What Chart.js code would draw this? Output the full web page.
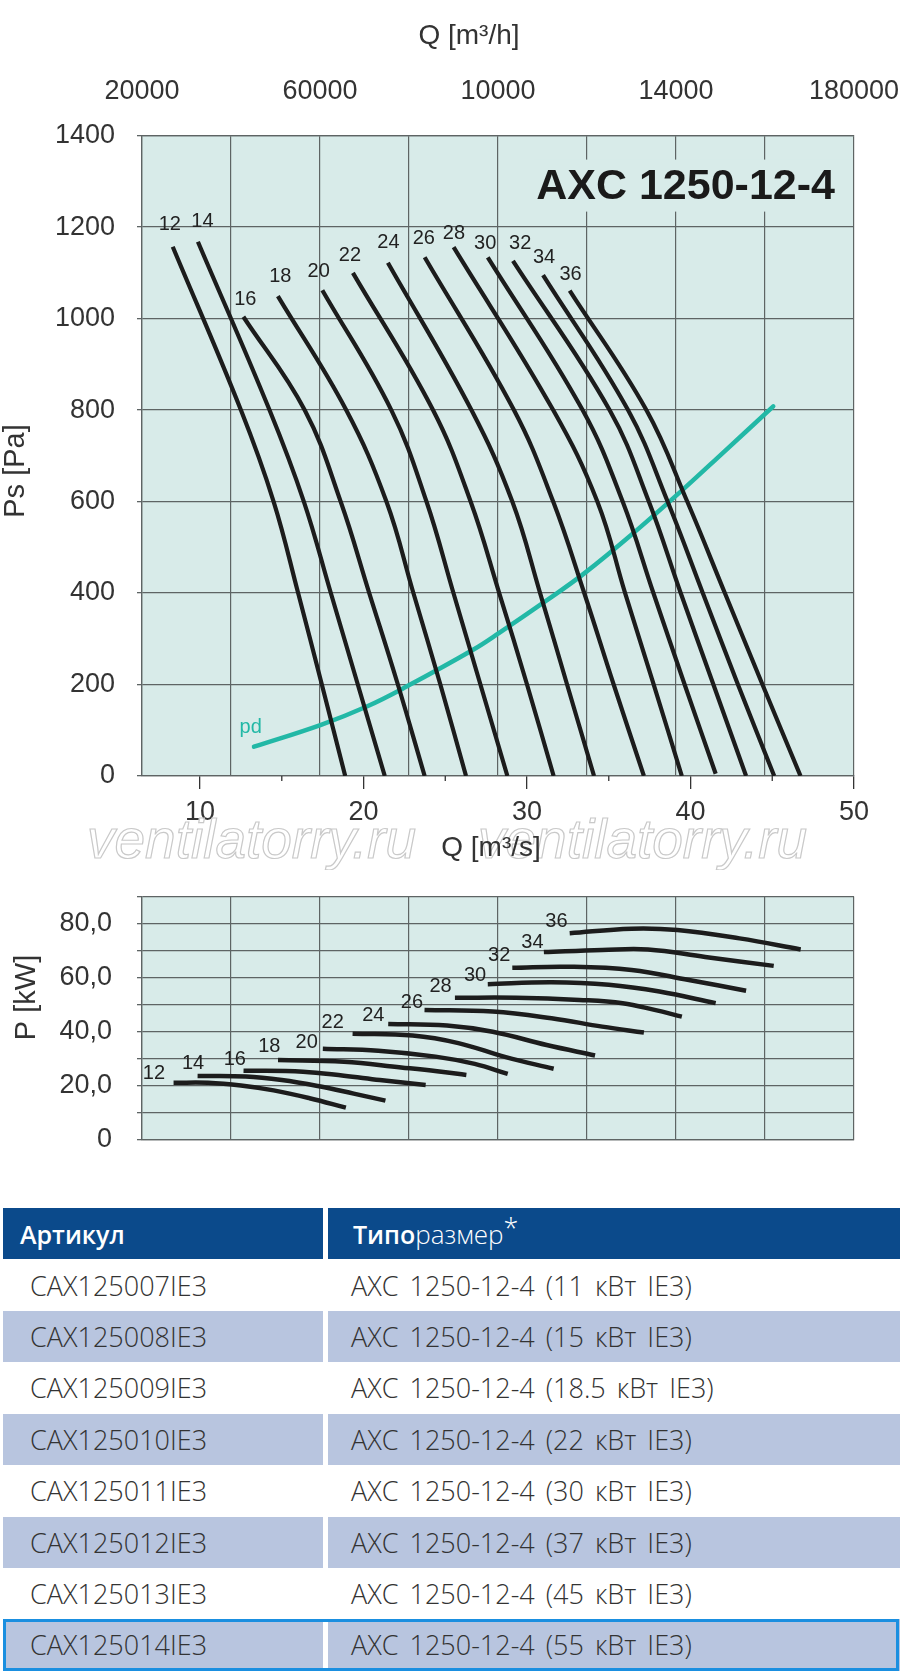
<!DOCTYPE html>
<html>
<head>
<meta charset="utf-8">
<script src="https://cdn.jsdelivr.net/npm/chart.js@4.4.1/dist/chart.umd.min.js"></script>
<style>
html,body{margin:0;padding:0;background:#fff;}
#page{position:relative;width:900px;height:1674px;overflow:hidden;background:#fff;}
canvas{position:absolute;left:0;}
.hd{position:absolute;box-sizing:border-box;height:51px;background:#0b4a8b;color:#fff;display:flex;align-items:center;font-family:"Open Sans",sans-serif;font-size:25px;white-space:nowrap;}
.cell{position:absolute;box-sizing:border-box;height:51.4px;display:flex;align-items:center;font-family:"Open Sans",sans-serif;font-weight:300;font-size:27px;color:#333;white-space:nowrap;}
.wide{word-spacing:4px;}
.b{font-weight:600;}
.l{font-weight:300;font-size:26px;}
.ast{font-weight:300;font-size:27px;position:relative;top:-6px;}
</style>
</head>
<body>
<div id="page">
<canvas id="c1" width="900" height="870" style="top:0px"></canvas>
<canvas id="c2" width="900" height="300" style="top:870px"></canvas>
<div id="table"></div>
</div>
<script>
// ---------------- DATA ----------------
const speedLabels = ['12','14','16','18','20','22','24','26','28','30','32','34','36'];

// Static pressure curves: [Q m3/s, Ps Pa]
const ps12 = [[8.33,1157],[12.5,800],[14.5,600],[16.0,400],[17.45,200],[18.88,0]];
const ps14 = [[9.87,1168],[14.25,800],[16.35,600],[18.0,400],[19.65,200],[21.3,0]];
const ps16 = [[12.65,1004],[16.4,800],[18.6,600],[20.35,400],[22.1,200],[23.74,0]];
const ps18 = [[14.76,1049],[18.94,800],[21.4,600],[23.05,400],[24.7,200],[26.27,0]];
const ps20 = [[17.48,1062],[21.7,800],[23.85,600],[25.5,400],[27.15,200],[28.8,0]];
const ps22 = [[19.35,1100],[24.25,800],[26.55,600],[28.3,400],[30.0,200],[31.63,0]];
const ps24 = [[21.49,1122],[26.6,800],[29.1,600],[30.8,400],[32.45,200],[34.1,0]];
const ps26 = [[23.74,1134],[29.2,800],[31.6,600],[33.5,400],[35.3,200],[37.15,0]];
const ps28 = [[25.51,1156],[31.6,800],[34.3,600],[36.0,400],[37.75,200],[39.47,0]];
const ps30 = [[27.6,1134],[33.4,800],[35.85,600],[37.73,400],[39.64,200],[41.54,5]];
const ps32 = [[29.14,1126],[35.05,800],[37.45,600],[39.4,400],[41.4,200],[43.4,0]];
const ps34 = [[30.98,1095],[36.18,800],[38.6,600],[40.75,400],[42.9,200],[45.12,0]];
const ps36 = [[32.61,1061],[37.3,800],[39.8,600],[42.1,400],[44.4,200],[46.73,0]];

// Dynamic pressure curve pd
const pdCurve = [[13.3,64],[17.4,112],[20.2,152],[22.6,195],[26.7,276],[28.3,313],[31.2,384],[33.5,443],[36.7,537],[39.5,625],[42.0,707],[45.06,808]];

// Power curves: [Q m3/s, P kW]
const pw12 = [[8.38,21.0],[10.5,21.0],[12.5,20.0],[14.5,18.2],[16.7,15.3],[18.92,11.8]];
const pw14 = [[9.85,23.5],[12.8,23.3],[15.0,22.0],[17.2,19.8],[19.4,17.0],[21.34,14.4]];
const pw16 = [[12.66,25.5],[16.3,25.1],[18.8,23.6],[21.0,22.0],[23.8,20.2]];
const pw18 = [[14.77,29.4],[18.8,28.8],[22.3,26.7],[24.5,25.3],[26.29,23.9]];
const pw20 = [[17.51,33.6],[20.9,32.9],[24.4,30.7],[26.8,28.0],[28.82,24.3]];
const pw22 = [[19.33,39.2],[23.0,38.5],[25.8,35.7],[28.7,30.5],[31.63,26.2]];
const pw24 = [[21.51,42.8],[25.1,42.2],[27.9,39.9],[31.2,35.0],[34.16,31.1]];
const pw26 = [[23.73,48.0],[27.9,47.4],[31.5,44.9],[34.6,41.8],[37.15,39.6]];
const pw28 = [[25.59,52.5],[29.35,52.5],[33.2,51.7],[35.85,50.5],[37.8,48.0],[39.47,45.5]];
const pw30 = [[27.6,57.5],[31.5,58.2],[35.0,57.3],[38.1,54.8],[41.54,50.5]];
const pw32 = [[29.1,63.6],[32.5,64.0],[36.4,62.8],[39.9,59.1],[43.4,55.1]];
const pw34 = [[31.03,69.4],[34.6,70.2],[37.4,70.4],[40.9,67.6],[45.09,64.3]];
const pw36 = [[32.61,76.4],[36.4,78.1],[39.2,77.6],[43.0,74.5],[46.74,70.4]];

// Curve label anchor points (data units)
const psLabelQ = [8.15,10.15,12.77,14.91,17.26,19.17,21.52,23.69,25.53,27.44,29.58,31.04,32.66];
const psLabelP = [1206,1213,1042,1092,1103,1137,1167,1174,1186,1165,1165,1134,1096];
const pwLabelQ = [7.18,9.57,12.13,14.24,16.52,18.11,20.6,22.96,24.71,26.82,28.3,30.33,31.8];
const pwLabelP = [24.5,28.2,29.8,34.4,36.0,43.3,46.0,50.7,56.5,60.8,68.3,72.9,80.8];
const pdLabel = ['pd', 12.42, 95];

// Axes
const qsMin = 6.45, qsMax = 50;                 // m3/s
const qsTicks = [10, 20, 30, 40, 50];
const qsMinorTicks = [15, 25, 35, 45];
const qhMin = 20000, qhMax = 180000, qhStep = 20000;   // m3/h grid
const qhLabelValues = [20000, 60000, 100000, 140000, 180000];
const qhLabelTexts = ['20000', '60000', '10000', '14000', '180000'];
const psMin = 0, psMax = 1400, psStep = 200;
const pwMin = 0, pwMax = 90, pwStep = 10;
const pwLabelValues = [0, 20, 40, 60, 80];
const pwLabelTexts = ['0', '20,0', '40,0', '60,0', '80,0'];

const chartTitle = 'AXC 1250-12-4';
const topAxisTitle = 'Q [m³/h]';
const bottomAxisTitle = 'Q [m³/s]';
const psAxisTitle = 'Ps [Pa]';
const pwAxisTitle = 'P [kW]';
const watermark = 'ventilatorry.ru';

// Table
const articles = ['CAX125007IE3','CAX125008IE3','CAX125009IE3','CAX125010IE3','CAX125011IE3','CAX125012IE3','CAX125013IE3','CAX125014IE3'];
const motorKw = ['11','15','18.5','22','30','37','45','55'];
const modelName = 'AXC 1250-12-4';

const psCurves = [ps12,ps14,ps16,ps18,ps20,ps22,ps24,ps26,ps28,ps30,ps32,ps34,ps36];
const pwCurves = [pw12,pw14,pw16,pw18,pw20,pw22,pw24,pw26,pw28,pw30,pw32,pw34,pw36];

// ---------------- STYLE ----------------
const FONT = '"Liberation Sans", Arial, Helvetica, sans-serif';
Chart.defaults.font.family = FONT;
Chart.defaults.color = '#333';
const PLOT_BG = '#d8ebe9';
const GRID = '#5e6464';
const LINE = '#1c1c1c';
const TEAL = '#22b8a6';

function rangeTicks(min, max, step) {
  const t = [];
  for (let v = min; v <= max + 1e-9; v += step) t.push({value: v});
  return t;
}
function fixSize(prop, val) {
  return s => {
    s[prop] = val;
    s.paddingLeft = 0; s.paddingRight = 0; s.paddingTop = 0; s.paddingBottom = 0;
  };
}

function lineSets(curves, width) {
  return curves.map((pts, i) => ({
    label: speedLabels[i],
    data: pts.map(p => ({x: p[0], y: p[1]})),
    borderColor: LINE, borderWidth: width, pointRadius: 0, fill: false,
    tension: 0.4, borderCapStyle: 'butt', borderJoinStyle: 'round',
    xAxisID: 'x', yAxisID: 'y'
  }));
}

const bgPlugin = {
  id: 'plotBg',
  beforeDraw(c) {
    const a = c.chartArea, ctx = c.ctx;
    ctx.save(); ctx.fillStyle = PLOT_BG;
    ctx.fillRect(a.left, a.top, a.right - a.left, a.bottom - a.top);
    ctx.restore();
  }
};

function labelsPlugin(qArr, pArr) {
  return {
    id: 'curveLabels',
    afterDatasetsDraw(c) {
      const ctx = c.ctx, xs = c.scales.x, ys = c.scales.y;
      ctx.save();
      ctx.font = '20px ' + FONT; ctx.fillStyle = '#222';
      ctx.textAlign = 'center'; ctx.textBaseline = 'middle';
      speedLabels.forEach((t, i) => ctx.fillText(t, xs.getPixelForValue(qArr[i]), ys.getPixelForValue(pArr[i])));
      ctx.restore();
    }
  };
}

// ---------------- CHART 1 ----------------
const topPlugin = {
  id: 'topDecor',
  beforeDatasetsDraw(c) {
    const a = c.chartArea, ctx = c.ctx;
    ctx.save();
    ctx.fillStyle = PLOT_BG;
    ctx.fillRect(a.left + 392, a.top + 24, a.right - a.left - 394, 52);
    ctx.fillStyle = '#1a1a1a';
    ctx.font = 'bold 43px ' + FONT;
    ctx.textAlign = 'right'; ctx.textBaseline = 'alphabetic';
    ctx.fillText(chartTitle, a.right - 19, a.top + 63.5);
    ctx.restore();
  },
  afterDraw(c) {
    const a = c.chartArea, ctx = c.ctx, xs = c.scales.x, ys = c.scales.y;
    ctx.save();
    ctx.strokeStyle = '#333'; ctx.lineWidth = 1.3;
    qsMinorTicks.forEach(v => {
      const x = xs.getPixelForValue(v);
      ctx.beginPath(); ctx.moveTo(x, a.bottom); ctx.lineTo(x, a.bottom + 5); ctx.stroke();
    });
    ctx.fillStyle = TEAL; ctx.font = '20px ' + FONT;
    ctx.textAlign = 'left'; ctx.textBaseline = 'alphabetic';
    ctx.fillText(pdLabel[0], xs.getPixelForValue(pdLabel[1]), ys.getPixelForValue(pdLabel[2]));
    ctx.font = 'italic 55px ' + FONT;
    ctx.strokeStyle = '#c9c9c9'; ctx.lineWidth = 1.2;
    ctx.strokeText(watermark, 87, 858);
    ctx.strokeText(watermark, 478, 858);
    ctx.fillStyle = '#333';
    ctx.font = '28px ' + FONT;
    ctx.textAlign = 'center'; ctx.textBaseline = 'middle';
    ctx.fillText(topAxisTitle, 469, 36);
    ctx.fillText(bottomAxisTitle, 491, 848);
    ctx.translate(16, 471); ctx.rotate(-Math.PI / 2);
    ctx.font = '29px ' + FONT;
    ctx.fillText(psAxisTitle, 0, 0);
    ctx.restore();
  }
};

const ds1 = lineSets(psCurves, 4.2);
ds1.push({
  label: 'pd', data: pdCurve.map(p => ({x: p[0], y: p[1]})),
  borderColor: TEAL, borderWidth: 4.5, pointRadius: 0, fill: false,
  tension: 0.4, borderCapStyle: 'round', xAxisID: 'x', yAxisID: 'y'
});

new Chart(document.getElementById('c1'), {
  type: 'line',
  data: {datasets: ds1},
  options: {
    responsive: false, animation: false, devicePixelRatio: 1,
    layout: {padding: {left: 0, right: 46, top: 0, bottom: 0}},
    plugins: {legend: {display: false}, tooltip: {enabled: false}},
    scales: {
      x: {
        type: 'linear', position: 'bottom', min: qsMin, max: qsMax,
        afterBuildTicks: s => { s.ticks = qsTicks.map(v => ({value: v})); },
        afterFit: fixSize('height', 94),
        ticks: {font: {size: 27}, color: '#333', padding: 7.8, autoSkip: false, maxRotation: 0},
        grid: {drawOnChartArea: false, drawTicks: true, tickLength: 13, color: '#333', lineWidth: 1.3},
        border: {display: true, color: GRID, width: 1.2}
      },
      xh: {
        type: 'linear', position: 'top', min: qhMin, max: qhMax,
        afterBuildTicks: s => { s.ticks = rangeTicks(qhMin, qhMax, qhStep); },
        afterFit: fixSize('height', 135.6),
        ticks: {
          font: {size: 27}, color: '#333', padding: 27.7, autoSkip: false, maxRotation: 0,
          callback: v => { const i = qhLabelValues.indexOf(v); return i >= 0 ? qhLabelTexts[i] : ''; }
        },
        grid: {drawOnChartArea: true, drawTicks: false, color: GRID, lineWidth: 1.2},
        border: {display: true, color: GRID, width: 1.2}
      },
      y: {
        type: 'linear', position: 'left', min: psMin, max: psMax,
        afterBuildTicks: s => { s.ticks = rangeTicks(psMin, psMax, psStep); },
        afterFit: fixSize('width', 142),
        ticks: {font: {size: 27}, color: '#333', padding: 22, callback: v => String(v)},
        grid: {color: GRID, lineWidth: 1.3, drawTicks: true, tickLength: 5},
        border: {display: true, color: GRID, width: 1.3}
      }
    }
  },
  plugins: [bgPlugin, labelsPlugin(psLabelQ, psLabelP), topPlugin]
});

// ---------------- CHART 2 ----------------
const bottomPlugin = {
  id: 'bottomDecor',
  afterDraw(c) {
    const ctx = c.ctx;
    ctx.save();
    ctx.fillStyle = '#333';
    ctx.font = '29px ' + FONT;
    ctx.textAlign = 'center'; ctx.textBaseline = 'middle';
    ctx.translate(27, 997.5 - 870); ctx.rotate(-Math.PI / 2);
    ctx.fillText(pwAxisTitle, 0, 0);
    ctx.restore();
  }
};

new Chart(document.getElementById('c2'), {
  type: 'line',
  data: {datasets: lineSets(pwCurves, 4.5)},
  options: {
    responsive: false, animation: false, devicePixelRatio: 1,
    layout: {padding: {left: 0, right: 46, top: 26.5, bottom: 0}},
    plugins: {legend: {display: false}, tooltip: {enabled: false}},
    scales: {
      x: {type: 'linear', position: 'bottom', min: qsMin, max: qsMax, display: false},
      xh: {
        type: 'linear', position: 'bottom', min: qhMin, max: qhMax,
        afterBuildTicks: s => { s.ticks = rangeTicks(qhMin, qhMax, qhStep); },
        afterFit: fixSize('height', 30.5),
        ticks: {display: false},
        grid: {drawOnChartArea: true, drawTicks: false, color: GRID, lineWidth: 1.2},
        border: {display: true, color: GRID, width: 1.2}
      },
      y: {
        type: 'linear', position: 'left', min: pwMin, max: pwMax,
        afterBuildTicks: s => { s.ticks = rangeTicks(pwMin, pwMax, pwStep); },
        afterFit: fixSize('width', 142),
        ticks: {
          font: {size: 27}, color: '#333', padding: 25, autoSkip: false,
          callback: v => { const i = pwLabelValues.indexOf(v); return i >= 0 ? pwLabelTexts[i] : ''; }
        },
        grid: {color: GRID, lineWidth: 1.3, drawTicks: true, tickLength: 5},
        border: {display: true, color: GRID, width: 1.3}
      }
    }
  },
  plugins: [bgPlugin, labelsPlugin(pwLabelQ, pwLabelP), bottomPlugin]
});

// ---------------- TABLE ----------------
let html = '<div class="hd" style="top:1208px;left:3px;width:320px;padding-left:17px"><span class="b">Артикул</span></div>' +
  '<div class="hd" style="top:1208px;left:328px;width:572px;padding-left:25px"><span class="b">Типо</span><span class="l">размер</span><span class="ast">*</span></div>';
articles.forEach((a, i) => {
  const top = 1259.5 + 51.4 * i;
  const bg = i % 2 ? '#b8c5df' : '#ffffff';
  html += `<div class="cell" style="top:${top}px;left:3px;width:320px;background:${bg};padding-left:27px">${a}</div>`;
  html += `<div class="cell wide" style="top:${top}px;left:328px;width:572px;background:${bg};padding-left:23px">${modelName} (${motorKw[i]} кВт IE3)</div>`;
});
const last = 1259.5 + 51.4 * (articles.length - 1);
html += `<div style="position:absolute;left:3px;top:${last}px;width:896px;height:52px;border:3px solid #1a8fe0;box-sizing:border-box"></div>`;
document.getElementById('table').innerHTML = html;
</script>
</body>
</html>
